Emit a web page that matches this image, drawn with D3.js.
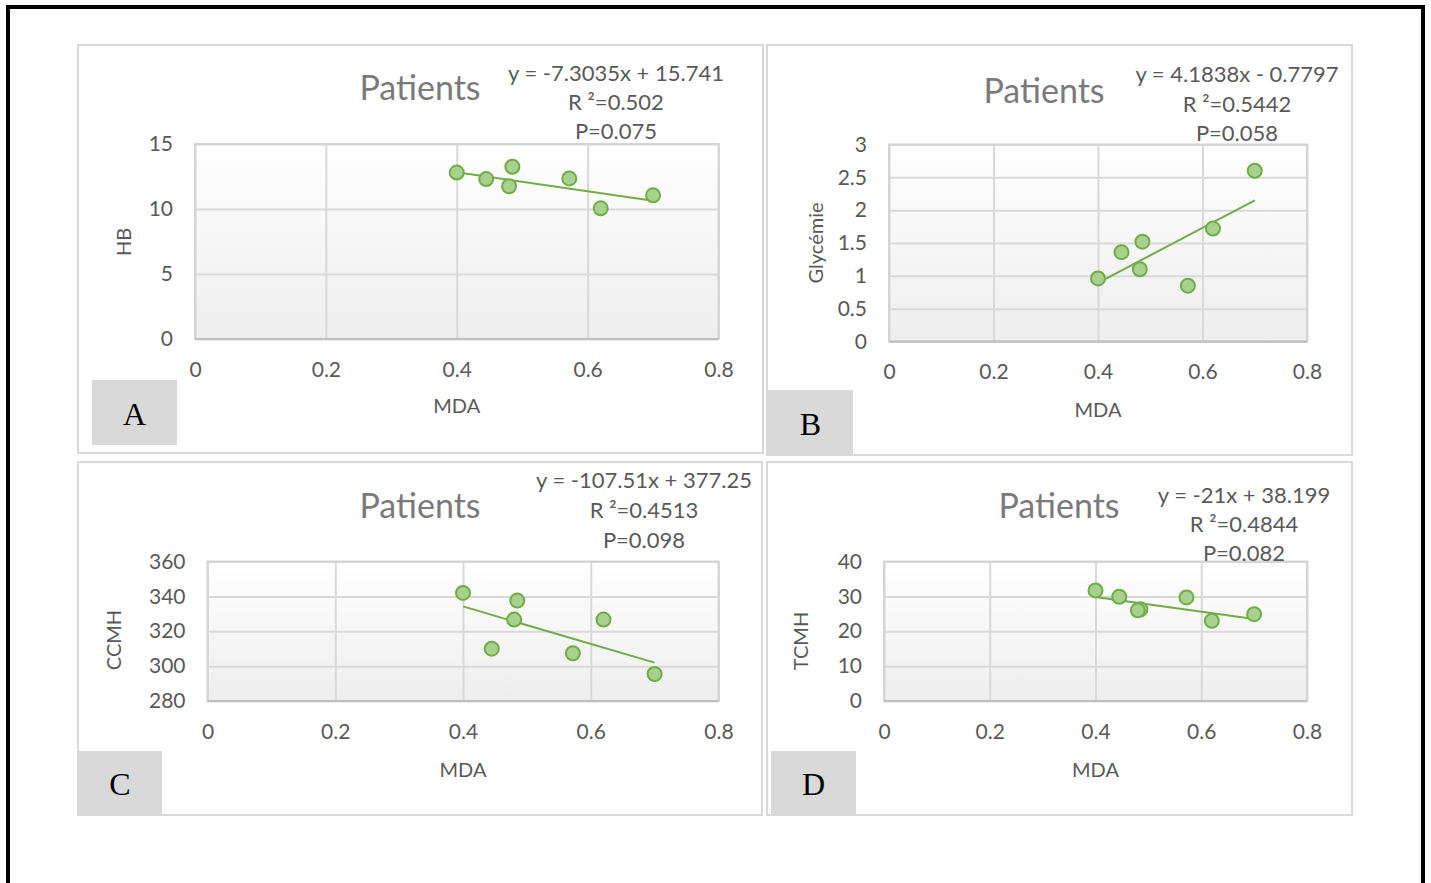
<!DOCTYPE html>
<html>
<head>
<meta charset="utf-8">
<script src="https://cdn.jsdelivr.net/npm/d3@7"></script>
<style>
  body { margin: 0; background: #fff; }
  text { font-family: Lato, "Open Sans", sans-serif; }
</style>
</head>
<body>
<svg id="chart" width="1431" height="883"></svg>
<script>
// values
var mda = [0.40, 0.445, 0.485, 0.48, 0.572, 0.62, 0.70];
var hb = [12.8, 12.3, 13.25, 11.75, 12.35, 10.05, 11.05];
var glycemie = [0.96, 1.36, 1.52, 1.10, 0.85, 1.72, 2.60];
var ccmh = [342, 310, 337.6, 326.7, 307.4, 326.7, 295.5];
var tcmh = [31.7, 29.9, 26.3, 26.0, 29.7, 23.0, 24.9];

var xTicks = [0, 0.2, 0.4, 0.6, 0.8];
var hbTicks = [0, 5, 10, 15];
var glyTicks = [0, 0.5, 1, 1.5, 2, 2.5, 3];
var ccmhTicks = [280, 300, 320, 340, 360];
var tcmhTicks = [0, 10, 20, 30, 40];

var slopes = [-7.3035, 4.1838, -107.51, -21];
var intercepts = [15.741, -0.7797, 377.25, 38.199];
var eqLabels = ["y = -7.3035x + 15.741", "y = 4.1838x - 0.7797", "y = -107.51x + 377.25", "y = -21x + 38.199"];
var r2Labels = ["R \u00b2=0.502", "R \u00b2=0.5442", "R \u00b2=0.4513", "R \u00b2=0.4844"];
var pLabels = ["P=0.075", "P=0.058", "P=0.098", "P=0.082"];
var yTitles = ["HB", "Glyc\u00e9mie", "CCMH", "TCMH"];
var tags = ["A", "B", "C", "D"];
var chartTitle = "Patients";
var xTitle = "MDA";

// layout of the four panels
var panels = [
  { box: [78, 45, 763, 453], plot: [195, 144, 718.5, 339], y: hb, yt: hbTicks,
    title: [420, 100], eq: [616, 81, 110, 139], yLab: [124, 242], tag: [92, 380, 177, 445], mdaY: 413 },
  { box: [767, 45, 1352, 455], plot: [889, 144.5, 1307, 341.5], y: glycemie, yt: glyTicks,
    title: [1044, 103], eq: [1237, 82, 112, 141], yLab: [816, 243], tag: [768, 390, 853, 455], mdaY: 417 },
  { box: [78, 462, 762, 815], plot: [207.5, 561.5, 718.5, 701], y: ccmh, yt: ccmhTicks,
    title: [420, 518], eq: [644, 488, 518, 548], yLab: [114, 640], tag: [78, 751, 162, 815], mdaY: 777 },
  { box: [767, 462, 1352, 815], plot: [884, 561.5, 1307, 701], y: tcmh, yt: tcmhTicks,
    title: [1059, 518], eq: [1244, 503, 532, 561], yLab: [801, 641], tag: [771, 751, 856, 815], mdaY: 777 }
];

var svg = d3.select("#chart");

var grad = svg.append("defs").append("linearGradient")
    .attr("id", "plotbg").attr("x1", 0).attr("y1", 0).attr("x2", 0).attr("y2", 1);
grad.append("stop").attr("offset", "0%").attr("stop-color", "#ffffff");
grad.append("stop").attr("offset", "100%").attr("stop-color", "#eeeeee");

// outer black frame
svg.append("rect")
    .attr("x", 8).attr("y", 7).attr("width", 1415).attr("height", 1000)
    .attr("fill", "none").attr("stroke", "#000").attr("stroke-width", 4);

panels.forEach(function(p, i) {
    var g = svg.append("g");

    g.append("rect")
        .attr("x", p.box[0]).attr("y", p.box[1])
        .attr("width", p.box[2] - p.box[0]).attr("height", p.box[3] - p.box[1])
        .attr("fill", "#fff").attr("stroke", "#d9d9d9").attr("stroke-width", 2);

    var xs = d3.scaleLinear().domain([0, 0.8]).range([p.plot[0], p.plot[2]]);
    var ys = d3.scaleLinear().domain(d3.extent(p.yt)).range([p.plot[3], p.plot[1]]);
    var w = p.plot[2] - p.plot[0];
    var h = p.plot[3] - p.plot[1];

    g.append("rect")
        .attr("x", p.plot[0]).attr("y", p.plot[1]).attr("width", w).attr("height", h)
        .attr("fill", "url(#plotbg)");

    var yAxis = d3.axisLeft(ys).tickValues(p.yt).tickFormat(String)
        .tickSize(-w).tickPadding(22);
    var xAxis = d3.axisBottom(xs).tickValues(xTicks).tickFormat(String)
        .tickSize(-h).tickPadding(23);

    var ya = g.append("g").attr("transform", "translate(" + p.plot[0] + ",0)").call(yAxis);
    var xa = g.append("g").attr("transform", "translate(0," + p.plot[3] + ")").call(xAxis);
    [ya, xa].forEach(function(a) {
        a.select(".domain").remove();
        a.selectAll("line").attr("stroke", "#d9d9d9").attr("stroke-width", 2);
        a.selectAll("text").attr("fill", "#595959").style("font-size", "21px");
    });

    g.append("rect")
        .attr("x", p.plot[0]).attr("y", p.plot[1]).attr("width", w).attr("height", h)
        .attr("fill", "none").attr("stroke", "#d4d4d4").attr("stroke-width", 2);
    g.append("line")
        .attr("x1", p.plot[0]).attr("x2", p.plot[2]).attr("y1", p.plot[3]).attr("y2", p.plot[3])
        .attr("stroke", "#bfbfbf").attr("stroke-width", 2);

    // trendline over the range of the data
    var x0 = d3.min(mda), x1 = d3.max(mda);
    g.append("line")
        .attr("x1", xs(x0)).attr("y1", ys(slopes[i] * x0 + intercepts[i]))
        .attr("x2", xs(x1)).attr("y2", ys(slopes[i] * x1 + intercepts[i]))
        .attr("stroke", "#70ad47").attr("stroke-width", 2);

    g.selectAll("circle")
        .data(mda)
        .enter()
        .append("circle")
            .attr("cx", function(d) { return xs(d); })
            .attr("cy", function(d, k) { return ys(p.y[k]); })
            .attr("r", 7)
            .attr("fill", "#a9d18e")
            .attr("stroke", "#70ad47")
            .attr("stroke-width", 2);

    g.append("text")
        .attr("x", p.title[0]).attr("y", p.title[1])
        .attr("text-anchor", "middle").attr("fill", "#7a7a7a")
        .style("font-size", "34px")
        .text(chartTitle);

    [eqLabels[i], r2Labels[i], pLabels[i]].forEach(function(t, k) {
        g.append("text")
            .attr("x", p.eq[0]).attr("y", p.eq[k + 1])
            .attr("text-anchor", "middle").attr("fill", "#595959")
            .style("font-size", "22px")
            .text(t);
    });

    g.append("text")
        .attr("transform", "translate(" + p.yLab[0] + "," + p.yLab[1] + ") rotate(-90)")
        .attr("text-anchor", "middle").attr("dy", "0.35em").attr("fill", "#595959")
        .style("font-size", "20px")
        .text(yTitles[i]);

    g.append("text")
        .attr("x", xs(0.4)).attr("y", p.mdaY)
        .attr("text-anchor", "middle").attr("fill", "#595959")
        .style("font-size", "20px")
        .text(xTitle);

    g.append("rect")
        .attr("x", p.tag[0]).attr("y", p.tag[1])
        .attr("width", p.tag[2] - p.tag[0]).attr("height", p.tag[3] - p.tag[1])
        .attr("fill", "#d9d9d9");
    g.append("text")
        .attr("x", (p.tag[0] + p.tag[2]) / 2).attr("y", p.tag[3] - 20)
        .attr("text-anchor", "middle").attr("fill", "#000")
        .style("font-family", "'Liberation Serif', 'DejaVu Serif', serif")
        .style("font-size", "32px")
        .text(tags[i]);
});
</script>
</body>
</html>
